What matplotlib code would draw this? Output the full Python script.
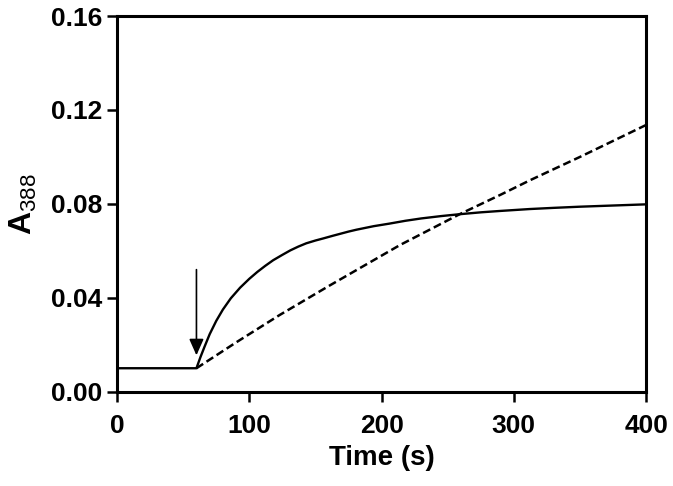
import matplotlib
matplotlib.use("Agg")
import matplotlib.pyplot as plt

plt.rcParams['font.family'] = ['Liberation Sans', 'DejaVu Sans']
plt.rcParams['mathtext.fontset'] = 'custom'
plt.rcParams['mathtext.rm'] = 'Liberation Sans'
plt.rcParams['mathtext.bf'] = 'Liberation Sans:bold'

# solid trace
time_solid = [0, 60, 63, 66, 70, 75, 80, 86, 93, 100, 106, 112, 118, 125, 131, 137,
              143, 150, 156, 163, 169, 175, 181, 194, 206, 218, 230, 245, 259, 275,
              290, 312, 330, 350, 375, 400]
a388_solid = [0.010, 0.010, 0.0147, 0.0190, 0.0245, 0.0302, 0.0350, 0.0398, 0.0443,
              0.0481, 0.0510, 0.0536, 0.0560, 0.0583, 0.0602, 0.0618, 0.0632, 0.0644,
              0.0653, 0.0664, 0.0673, 0.0682, 0.0690, 0.0705, 0.0716, 0.0728, 0.0738,
              0.0748, 0.0756, 0.0764, 0.0770, 0.0778, 0.0783, 0.0788, 0.0793, 0.0798]

# dashed trace
time_dashed = [60, 90, 123, 160, 214, 259, 290, 312, 350, 400]
a388_dashed = [0.010, 0.021, 0.0327, 0.0450, 0.0625, 0.0756, 0.0839, 0.0900, 0.1000, 0.1136]

# arrow marking the addition
arrow_time = 60
arrow_top = 0.052
arrow_tip = 0.0155

x_ticks = [0, 100, 200, 300, 400]
y_ticks = [0.00, 0.04, 0.08, 0.12, 0.16]


def plot_chart():
    fig = plt.figure(figsize=(6.73, 4.86), dpi=100)
    ax = fig.add_axes([0.174, 0.194, 0.786, 0.773])

    ax.plot(time_solid, a388_solid, color='black', lw=1.7, solid_capstyle='butt')
    ax.plot(time_dashed, a388_dashed, color='black', lw=1.8, linestyle=(0, (3.2, 1.6)))

    ax.annotate('', xy=(arrow_time, arrow_tip), xytext=(arrow_time, arrow_top),
                arrowprops=dict(arrowstyle='-|>,head_length=0.45,head_width=0.2',
                                color='black', lw=1.2, mutation_scale=22,
                                shrinkA=0, shrinkB=0))

    ax.set_xlim(0, 400)
    ax.set_ylim(0, 0.16)
    ax.set_xticks(x_ticks)
    ax.set_yticks(y_ticks)
    ax.set_xticklabels([str(t) for t in x_ticks])
    ax.set_yticklabels(['%.2f' % v for v in y_ticks])

    for spine in ax.spines.values():
        spine.set_linewidth(2.2)
    ax.tick_params(direction='out', length=7, width=1.8, labelsize=19)
    ax.tick_params(axis='x', pad=9)
    ax.tick_params(axis='y', pad=3.5)
    for label in ax.get_xticklabels() + ax.get_yticklabels():
        label.set_fontweight('bold')

    ax.set_xlabel('Time (s)', fontsize=20, fontweight='bold', labelpad=5)
    ax.set_ylabel(r'$\mathbf{A}_{\mathrm{388}}$', fontsize=23, labelpad=9)

    fig.savefig('out.png', dpi=100)


if __name__ == '__main__':
    plot_chart()
